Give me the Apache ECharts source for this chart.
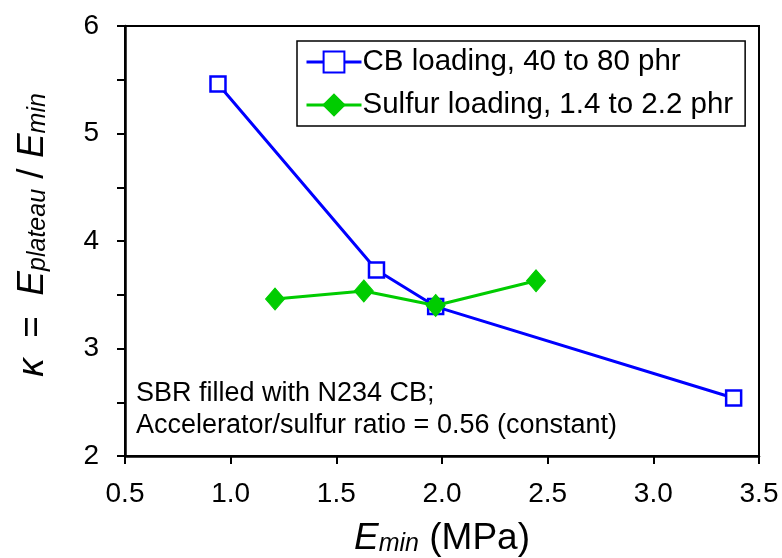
<!DOCTYPE html>
<html>
<head>
<meta charset="utf-8">
<script src="https://cdn.jsdelivr.net/npm/echarts@6/dist/echarts.min.js"></script>
<style>html,body{margin:0;padding:0;background:#fff}#c{width:782px;height:558px}</style>
</head>
<body>
<div id="c"></div>
<script>
const cbName = 'CB loading, 40 to 80 phr';
const sulfurName = 'Sulfur loading, 1.4 to 2.2 phr';
const cbX = [0.94, 1.69, 1.97, 3.38];
const cbY = [5.46, 3.73, 3.39, 2.54];
const sX = [1.21, 1.63, 1.97, 2.445];
const sY = [3.46, 3.535, 3.40, 3.63];
const xTicks = ['0.5','1.0','1.5','2.0','2.5','3.0','3.5'];
const yTicks = ['2','3','4','5','6'];
const noteLines = ['SBR filled with N234 CB;', 'Accelerator/sulfur ratio = 0.56 (constant)'];

const FONT = '"Liberation Sans", Arial, sans-serif';
const chart = echarts.init(document.getElementById('c'), null, {renderer: 'canvas'});
const pair = (xs, ys) => xs.map((x, i) => [x, ys[i]]);

chart.setOption({
  animation: false,
  backgroundColor: '#fff',
  textStyle: {fontFamily: FONT},
  grid: {left: 125, right: 23, top: 26, bottom: 102, show: true, borderColor: '#000', borderWidth: 2,
    backgroundColor: 'transparent', containLabel: false, outerBoundsMode: 'none'},
  xAxis: {
    type: 'value', min: 0.5, max: 3.5, interval: 0.5,
    axisLine: {show: true, onZero: false, lineStyle: {color: '#000', width: 2.5}},
    axisTick: {show: true, inside: false, length: 8, lineStyle: {color: '#000', width: 2}},
    splitLine: {show: false},
    axisLabel: {margin: 24, color: '#000', fontSize: 28, fontFamily: FONT,
      formatter: (v) => xTicks[Math.round((v - 0.5) / 0.5)] },
    name: '{e|E}{s|min}{n| (MPa)}',
    nameLocation: 'middle', nameGap: 61,
    nameTextStyle: {
      color: '#000', fontFamily: FONT,
      rich: {
        e: {fontSize: 37, fontStyle: 'italic', fontFamily: FONT, color: '#000', lineHeight: 40, verticalAlign: 'bottom'},
        s: {fontSize: 25, fontStyle: 'italic', fontFamily: FONT, color: '#000', lineHeight: 16, verticalAlign: 'bottom'},
        n: {fontSize: 37, fontFamily: FONT, color: '#000', lineHeight: 40, verticalAlign: 'bottom'}
      }
    }
  },
  yAxis: {
    type: 'value', min: 2, max: 6, interval: 1,
    axisLine: {show: true, onZero: false, lineStyle: {color: '#000', width: 2.5}},
    axisTick: {show: true, inside: false, length: 8, lineStyle: {color: '#000', width: 2}},
    minorTick: {show: true, splitNumber: 2, length: 8, lineStyle: {color: '#000', width: 2}},
    splitLine: {show: false},
    minorSplitLine: {show: false},
    axisLabel: {margin: 26, color: '#000', fontSize: 28, fontFamily: FONT,
      formatter: (v) => yTicks[Math.round(v - 2)] },
    name: '{k|κ}{t|  =  }{e|E}{s|plateau}{t| / }{e|E}{s|min}',
    nameLocation: 'middle', nameGap: 74,
    nameTextStyle: {
      color: '#000', fontFamily: FONT, padding: [0, 0, 0, 12],
      rich: {
        k: {fontSize: 37, fontStyle: 'italic', fontFamily: FONT, color: '#000', lineHeight: 40, verticalAlign: 'bottom'},
        t: {fontSize: 37, fontFamily: FONT, color: '#000', lineHeight: 40, verticalAlign: 'bottom'},
        e: {fontSize: 37, fontStyle: 'italic', fontFamily: FONT, color: '#000', lineHeight: 40, verticalAlign: 'bottom'},
        s: {fontSize: 25, fontStyle: 'italic', fontFamily: FONT, color: '#000', lineHeight: 16, verticalAlign: 'bottom'}
      }
    }
  },
  legend: {
    show: true, orient: 'vertical', left: 297, top: 41,
    padding: [5, 12, 5, 8],
    itemGap: 11, itemWidth: 55, itemHeight: 26,
    borderColor: '#000', borderWidth: 1.5, backgroundColor: '#fff',
    lineStyle: {width: 3},
    textStyle: {fontSize: 29.5, lineHeight: 32, color: '#000', fontFamily: FONT, padding: [0, 0, 0, -4]},
    data: [cbName, sulfurName]
  },
  graphic: [{
    type: 'text', left: 136, top: 378,
    style: {text: noteLines.join('\n'), font: '27px ' + FONT, fill: '#000', lineHeight: 32}
  }],
  series: [
    {
      name: cbName, type: 'line', data: pair(cbX, cbY),
      symbol: 'rect', symbolSize: 15, showAllSymbol: true,
      lineStyle: {color: '#0000ff', width: 3},
      itemStyle: {color: '#fff', borderColor: '#0000ff', borderWidth: 2.5},
      z: 2
    },
    {
      name: sulfurName, type: 'line', data: pair(sX, sY),
      symbol: 'diamond', symbolSize: [19, 22], showAllSymbol: true,
      lineStyle: {color: '#00cc00', width: 3},
      itemStyle: {color: '#00cc00', borderColor: '#00cc00', borderWidth: 1},
      z: 3
    }
  ]
});
</script>
</body>
</html>
